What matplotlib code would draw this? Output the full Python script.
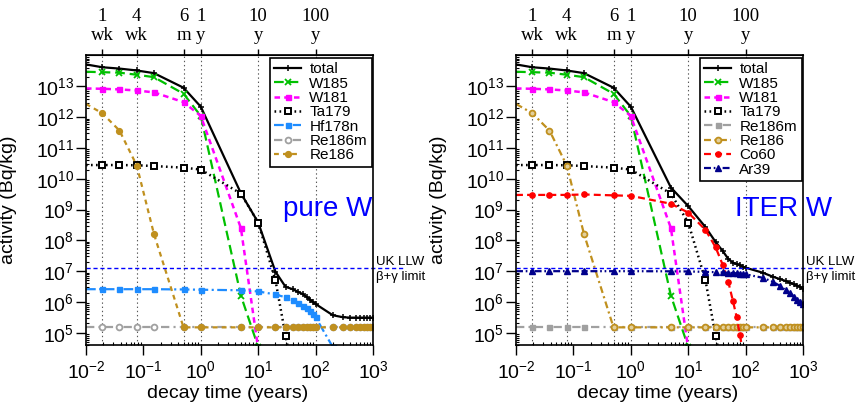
import numpy as np
import matplotlib
matplotlib.use('Agg')
import matplotlib.pyplot as plt
import matplotlib.transforms as mtransforms
from matplotlib.ticker import LogLocator, NullFormatter, NullLocator

plt.rcParams['font.family'] = ['Liberation Sans', 'DejaVu Sans']
plt.rcParams['mathtext.fontset'] = 'custom'
plt.rcParams['mathtext.rm'] = 'Liberation Sans'
plt.rcParams['mathtext.it'] = 'Liberation Sans:italic'
plt.rcParams['mathtext.bf'] = 'Liberation Sans:bold'
plt.rcParams['lines.scale_dashes'] = False

##-----------DATA-----------##
# decay times (years), the first one sits on the left edge of the plot
times = [0.01, 0.0192, 0.0383, 0.0767, 0.153, 0.5, 1, 5, 10, 20, 30, 40, 50, 60, 70,
         80, 90, 100, 200, 300, 400, 500, 600, 700, 800, 900, 1000]

# secondary (top) axis
top_ticks = [0.0192, 0.0767, 0.5, 1, 10, 100]
top_labels = ['1\nwk', '4\nwk', '6\nm', '1\ny', '10\ny', '100\ny']

# UK low level waste limit (beta + gamma)
llw_limit = 1.23e7

# activities (Bq/kg), one entry per decay time until the curve leaves the plot
total_pure = [5.2e13, 4.2e13, 3.8e13, 3.3e13, 2.7e13, 9.1e12, 2.2e12, 3.4e9, 3.8e8, 9.6e6,
              3.1e6, 2.6e6, 2.1e6, 1.8e6, 1.45e6, 1.2e6, 9.9e5, 8.6e5, 3.7e5, 3.2e5,
              3.1e5, 3.1e5, 3.1e5, 3.1e5, 3.1e5, 3.1e5, 3.1e5]
total_iter = [5.2e13, 4.2e13, 3.8e13, 3.3e13, 2.7e13, 9.1e12, 2.2e12, 5.2e9, 1.3e9, 2.7e8,
              8.9e7, 4.5e7, 2.5e7, 1.9e7, 1.7e7, 1.55e7, 1.4e7, 1.3e7, 8.9e6, 6.6e6,
              5.5e6, 4.8e6, 4.2e6, 3.7e6, 3.4e6, 3.1e6, 2.7e6]
w185 = [3.0e13, 2.9e13, 2.8e13, 2.4e13, 2.0e13, 5.8e12, 1.1e12, 1.6e6, 3.5e4]
w181 = [8.6e12, 8.4e12, 8.0e12, 7.4e12, 6.4e12, 3.1e12, 1.1e12, 2.5e8, 3.0e4]
ta179 = [2.8e10, 2.8e10, 2.8e10, 2.75e10, 2.6e10, 2.3e10, 2.0e10, 3.3e9, 3.8e8, 5.0e6,
         8.0e4, 5.0e3]
hf178n = [2.6e6, 2.6e6, 2.6e6, 2.6e6, 2.6e6, 2.55e6, 2.5e6, 2.4e6, 2.2e6, 1.75e6,
          1.42e6, 1.13e6, 9.2e5, 7.5e5, 6.2e5, 5.0e5, 4.1e5, 3.2e5, 3.4e4, 3.5e3]
re186m = [1.5e5, 1.5e5, 1.5e5, 1.5e5, 1.5e5, 1.5e5, 1.5e5, 1.5e5, 1.5e5, 1.5e5,
          1.5e5, 1.5e5, 1.5e5, 1.5e5, 1.5e5, 1.5e5, 1.5e5, 1.5e5, 1.5e5, 1.5e5,
          1.5e5, 1.5e5, 1.5e5, 1.5e5, 1.5e5, 1.5e5, 1.5e5]
re186 = [2.7e12, 1.35e12, 3.7e11, 2.7e10, 1.6e8, 1.5e5, 1.5e5, 1.5e5, 1.5e5, 1.5e5,
         1.5e5, 1.5e5, 1.5e5, 1.5e5, 1.5e5, 1.5e5, 1.5e5, 1.5e5, 1.5e5, 1.5e5,
         1.5e5, 1.5e5, 1.5e5, 1.5e5, 1.5e5, 1.5e5, 1.5e5]
co60 = [3.0e9, 3.0e9, 3.0e9, 3.0e9, 3.1e9, 2.9e9, 2.8e9, 1.55e9, 8.0e8, 2.2e8,
        6.0e7, 1.6e7, 4.5e6, 1.1e6, 3.2e5, 8.3e4, 2.2e4]
ar39 = [1.0e7, 1.0e7, 1.0e7, 1.0e7, 1.0e7, 1.0e7, 1.0e7, 9.9e6, 9.8e6, 9.5e6,
        9.3e6, 9.1e6, 8.9e6, 8.7e6, 8.5e6, 8.3e6, 8.1e6, 7.9e6, 6.1e6, 4.5e6,
        3.3e6, 2.4e6, 1.9e6, 1.5e6, 1.2e6, 1.0e6, 8.3e5]

##-----------STYLES-----------##
gold = '#c0901e'
st_total = dict(color='black', ls='-', lw=1.6, marker='+', ms=4, mew=1.1)
st_w185 = dict(color='#00c000', ls=(0, (7, 3.5)), lw=1.6, marker='x', ms=4, mew=1.3)
st_w181 = dict(color='#ff00ff', ls=(0, (4, 3)), lw=1.8, marker='s', ms=3.6)
st_ta179 = dict(color='black', ls=(0, (1.2, 2.4)), lw=1.8, marker='s', ms=4, mfc='white', mew=1.4)
st_hf178n = dict(color='#1e8cff', ls=(0, (7, 2.5, 1.5, 2.5)), lw=1.6, marker='s', ms=3.6)
st_re186m_l = dict(color='#a0a0a0', ls=(0, (6, 3, 1.5, 3)), lw=1.6, marker='o', ms=4.2, mfc='white', mew=1.3)
st_re186_l = dict(color=gold, ls=(0, (3.5, 3)), lw=1.6, marker='o', ms=4.2)
st_re186m_r = dict(color='#a0a0a0', ls=(0, (6, 3, 1.5, 3)), lw=1.6, marker='s', ms=3.6)
st_re186_r = dict(color=gold, ls=(0, (5, 2.5, 1.5, 2.5)), lw=1.6, marker='o', ms=4.2, mfc='#e2cf9c', mew=1.3)
st_co60 = dict(color='#ff0000', ls=(0, (5, 3)), lw=1.6, marker='o', ms=3.8)
st_ar39 = dict(color='#00008b', ls=(0, (5, 2, 1.2, 2, 1.2, 2)), lw=1.6, marker='^', ms=5)

pure_series = [('total', total_pure, st_total), ('W185', w185, st_w185),
               ('W181', w181, st_w181), ('Ta179', ta179, st_ta179),
               ('Hf178n', hf178n, st_hf178n), ('Re186m', re186m, st_re186m_l),
               ('Re186', re186, st_re186_l)]
iter_series = [('total', total_iter, st_total), ('W185', w185, st_w185),
               ('W181', w181, st_w181), ('Ta179', ta179, st_ta179),
               ('Re186m', re186m, st_re186m_r), ('Re186', re186, st_re186_r),
               ('Co60', co60, st_co60), ('Ar39', ar39, st_ar39)]


##-----------PANEL-----------##
def draw_panel(ax, series, title, title_x):
	ax.set_xscale('log'); ax.set_yscale('log')
	ax.set_xlim(1e-2, 1e3)
	ax.set_ylim(4e4, 1.05e14)
	for t in top_ticks:
		ax.axvline(t, color='0.35', ls=(0, (1, 2)), lw=0.8, zorder=0)
	for name, vals, st in series:
		n = len(vals)
		ax.plot(times[:n], vals, label=name, markevery=list(range(1, n)), **st)
	#LLW limit line runs past the right edge of the frame
	ax.axhline(llw_limit, xmin=0, xmax=1.105, color='#0000ff', ls=(0, (3, 2)), lw=1.0, clip_on=False)
	tr = mtransforms.blended_transform_factory(ax.transAxes, ax.transData)
	ax.annotate('UK LLW', xy=(1.01, llw_limit), xycoords=tr, xytext=(0, 0.5), textcoords='offset points',
				va='bottom', ha='left', fontsize=9.5, annotation_clip=False)
	ax.annotate('β+γ limit', xy=(1.01, llw_limit), xycoords=tr, xytext=(0, -2), textcoords='offset points',
				va='top', ha='left', fontsize=9.5, annotation_clip=False)
	ax.text(title_x, 0.47, title, transform=ax.transAxes, color='#0000ff', fontsize=20,
			va='center', ha='left', clip_on=False)
	#ticks
	ax.set_yticks([10.0**k for k in range(5, 14)])
	ax.xaxis.set_minor_locator(LogLocator(base=10, subs=np.arange(2, 10), numticks=50))
	ax.yaxis.set_minor_locator(LogLocator(base=10, subs=np.arange(2, 10), numticks=50))
	ax.xaxis.set_minor_formatter(NullFormatter()); ax.yaxis.set_minor_formatter(NullFormatter())
	ax.tick_params(which='major', direction='out', length=7, width=1.0, labelsize=14)
	ax.tick_params(which='minor', direction='in', length=2.5, width=0.8)
	ax.tick_params(axis='x', which='major', pad=4)
	ax.tick_params(axis='y', which='major', pad=1.5)
	for sp in ax.spines.values():
		sp.set_linewidth(1.2)
	ax.set_xlabel('decay time (years)', fontsize=14)
	ax.set_ylabel('activity (Bq/kg)', fontsize=14)
	ax.xaxis.set_label_coords(0.495, -0.137)
	ax.yaxis.set_label_coords(-0.24, 0.5)
	#top axis with week/month/year labels
	sec = ax.secondary_xaxis('top')
	sec.set_xscale('log')
	sec.xaxis.set_minor_locator(NullLocator())
	sec.set_xticks(top_ticks, top_labels)
	sec.tick_params(direction='out', length=4, width=1.0, pad=4)
	for lbl in sec.get_xticklabels():
		lbl.set_fontfamily('Liberation Serif'); lbl.set_fontsize(13.5); lbl.set_linespacing(1.15)
	leg = ax.legend(loc='upper right', bbox_to_anchor=(0.995, 0.99), borderaxespad=0, fontsize=11,
					labelspacing=0.02, handlelength=1.75, handletextpad=0.55, borderpad=0.3,
					fancybox=False, framealpha=1, edgecolor='black', numpoints=1)
	leg.get_frame().set_linewidth(1.2)


##-----------MAIN-----------##
fig = plt.figure(figsize=(8.59, 4.05), dpi=100)
ax1 = fig.add_axes([0.1001, 0.1481, 0.3341, 0.7161])
ax2 = fig.add_axes([0.6007, 0.1481, 0.3341, 0.7161])
draw_panel(ax1, pure_series, 'pure W', 0.685)
draw_panel(ax2, iter_series, 'ITER W', 0.763)
fig.savefig('out.png', dpi=100)
